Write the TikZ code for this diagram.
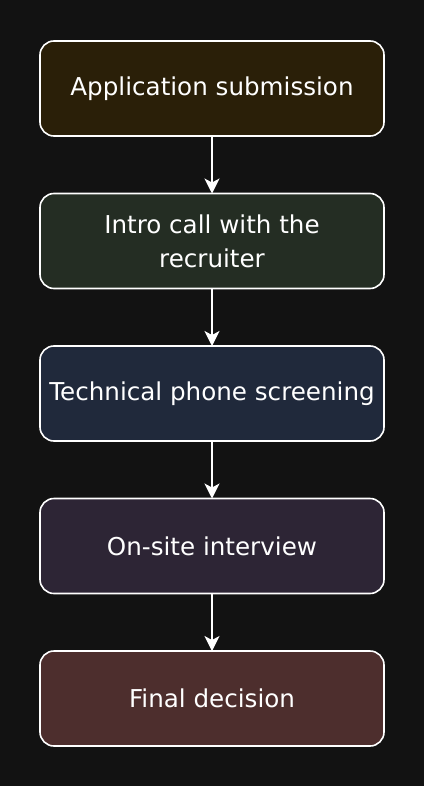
\documentclass[tikz,border=0pt]{standalone}
\usepackage{fontspec}
\setmainfont{DejaVu Sans}
\usetikzlibrary{arrows.meta, positioning}

\begin{document}
\begin{tikzpicture}[x=1pt, y=1pt, node distance=57.5pt]
\definecolor{bg_color}{RGB}{18,18,18}
\definecolor{application_color}{RGB}{42,31,8}
\definecolor{intro_call_color}{RGB}{36,45,35}
\definecolor{phone_screen_color}{RGB}{32,41,59}
\definecolor{onsite_color}{RGB}{45,37,53}
\definecolor{decision_color}{RGB}{77,46,45}

\tikzset{
  stagebox/.style={draw=white, line width=1.6pt, rounded corners=14pt, text=white, align=center,
    minimum width=344pt, minimum height=95pt, inner sep=0pt, outer sep=0pt, font=\fontsize{24.6}{34}\selectfont},
  flowarrow/.style={draw=white, line width=1.3pt, -{Stealth[length=15pt, width=15pt, inset=4pt]}}
}

\fill[bg_color] (0,0) rectangle (424,-786);

\node[stagebox, fill=application_color] (application) at (212,-88.5) {Application submission};
\node[stagebox, fill=intro_call_color, below=of application] (introcall) {Intro call with the\\recruiter};
\node[stagebox, fill=phone_screen_color, below=of introcall] (phonescreen) {Technical phone screening};
\node[stagebox, fill=onsite_color, below=of phonescreen] (onsite) {On-site interview};
\node[stagebox, fill=decision_color, below=of onsite] (decision) {Final decision};

\draw[flowarrow] (application) -- (introcall);
\draw[flowarrow] (introcall) -- (phonescreen);
\draw[flowarrow] (phonescreen) -- (onsite);
\draw[flowarrow] (onsite) -- (decision);

\end{tikzpicture}
\end{document}
